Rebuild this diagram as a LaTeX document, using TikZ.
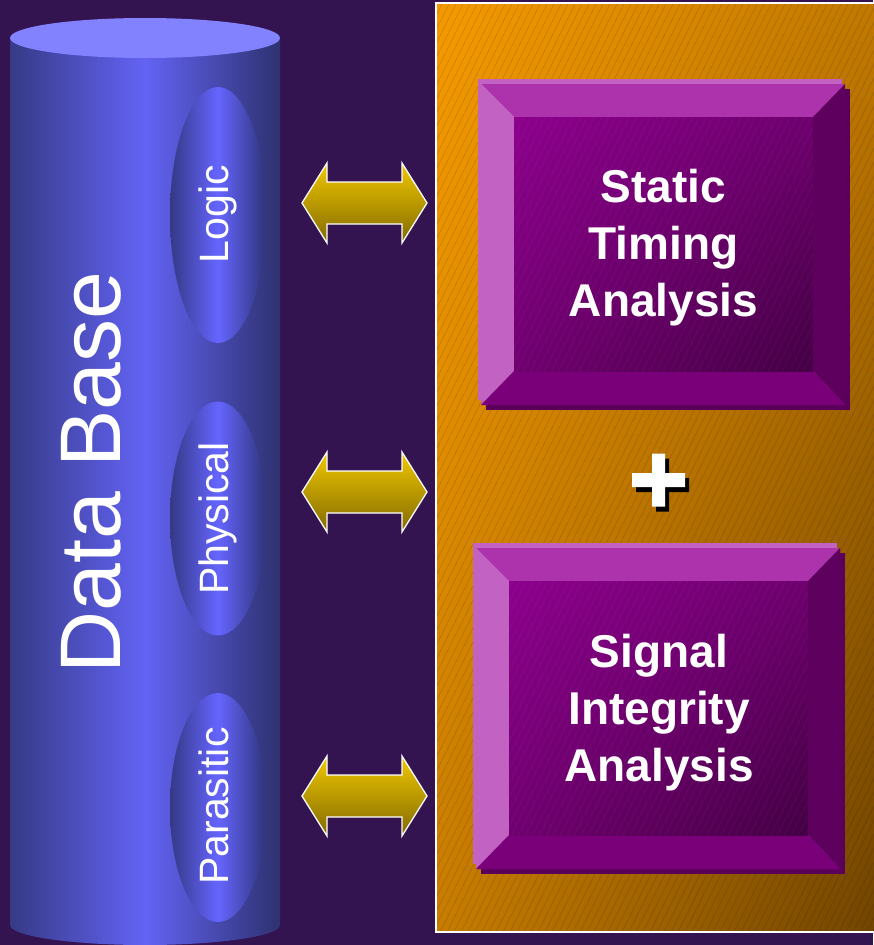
\documentclass[tikz,border=0pt]{standalone}
\usepackage{fontspec}
\setmainfont{Liberation Sans}
\usetikzlibrary{calc,shapes.geometric,shadings}

\definecolor{bgpurple}{HTML}{341450}
\definecolor{cylleft}{HTML}{363A86}
\definecolor{cylmid}{HTML}{6363F5}
\definecolor{cylright}{HTML}{2E3270}
\definecolor{cyltop}{HTML}{8282FF}
\definecolor{partleft}{HTML}{343985}
\definecolor{partmid}{HTML}{6565FF}
\definecolor{partright}{HTML}{30357A}
\definecolor{goldtop}{HTML}{F0C800}
\definecolor{goldmid}{HTML}{D4AE00}
\definecolor{goldbot}{HTML}{836A00}
\definecolor{panelUL}{HTML}{F59A00}
\definecolor{panelUR}{HTML}{C07800}
\definecolor{panelLL}{HTML}{C87D00}
\definecolor{panelLR}{HTML}{704400}
\definecolor{bevtopc}{HTML}{AD33AD}
\definecolor{bevleftc}{HTML}{C262C2}
\definecolor{bevrightc}{HTML}{5E005E}
\definecolor{bevbotc}{HTML}{7A007A}
\definecolor{bevshadowc}{HTML}{5A005A}
\definecolor{faceUL}{HTML}{8C008C}
\definecolor{faceUR}{HTML}{6E006E}
\definecolor{faceLL}{HTML}{700070}
\definecolor{faceLR}{HTML}{440044}

% left-to-right shadings for the cylinder body and its compartments
\pgfdeclarehorizontalshading{cylshade}{100bp}{color(0bp)=(cylleft); color(25bp)=(cylleft);
  color(50bp)=(cylmid); color(75bp)=(cylright); color(100bp)=(cylright)}
\pgfdeclarehorizontalshading{partshade}{100bp}{color(0bp)=(partleft); color(25bp)=(partleft);
  color(50bp)=(partmid); color(75bp)=(partright); color(100bp)=(partright)}

% bevelled push-button box: #1 name, (#2,#3) face top-left, (#4,#5) face bottom-right
\newcommand\bevelbox[5]{%
  \pgfmathsetmacro\bxa{#2-33}\pgfmathsetmacro\bya{#3-33}%
  \pgfmathsetmacro\bxb{#4+32}\pgfmathsetmacro\byb{#5+34}%
  \pgfmathsetmacro\fw{#4-#2}\pgfmathsetmacro\fh{#5-#3}%
  \pgfmathsetmacro\fcx{(#2+#4)/2}\pgfmathsetmacro\fcy{(#3+#5)/2}%
  \pgfmathtruncatemacro\hstart{#2-140}\pgfmathtruncatemacro\hnext{#2-133}%
  \pgfmathtruncatemacro\hend{#4}%
  \fill[bevshadowc] (\bxa+5,\bya+5) rectangle (\bxb+5,\byb+5);
  \fill[bevleftc] (\bxa-3,\bya-5) rectangle (\bxb-3,\byb-5);
  \fill[bevtopc] (\bxa,\bya) -- (\bxb,\bya) -- (#4,#3) -- (#2,#3) -- cycle;
  \fill[bevleftc] (\bxa,\bya) -- (#2,#3) -- (#2,#5) -- (\bxa,\byb) -- cycle;
  \fill[bevrightc] (\bxb,\bya) -- (\bxb,\byb) -- (#4,#5) -- (#4,#3) -- cycle;
  \fill[bevbotc] (\bxa,\byb) -- (#2,#5) -- (#4,#5) -- (\bxb,\byb) -- cycle;
  \node[faceplate, minimum width=\fw pt, minimum height=\fh pt]
    (#1) at (\fcx,\fcy) {};
  \begin{scope}
    \clip (#2,#3) rectangle (#4,#5);
    \foreach \hx in {\hstart,\hnext,...,\hend}
      \draw[facehatch] (\hx,#5+5) -- ++(135,-270);
  \end{scope}
}

\begin{document}
\begin{tikzpicture}[x=1pt,y=-1pt,
  hatch/.style={black,opacity=0.12,line width=0.7pt},
  facehatch/.style={white,opacity=0.05,line width=0.6pt},
  cylbody/.style={shade,shading=cylshade},
  dbpart/.style={ellipse,inner sep=0pt,minimum width=96pt,shade,shading=partshade},
  faceplate/.style={rectangle,inner sep=0pt,
    upper left=faceUL,upper right=faceUR,lower left=faceLL,lower right=faceLR},
  dblabel/.style={white,font=\fontsize{86}{86}\selectfont,rotate=90,
    anchor=base,inner sep=0pt},
  partlabel/.style={white,font=\fontsize{41}{41}\selectfont,rotate=90,
    anchor=base,inner sep=0pt},
  boxlabel/.style={white,font=\bfseries\fontsize{46}{57}\selectfont,
    align=center,inner sep=0pt},
  dblarrow/.pic={
    \shade[top color=goldtop,middle color=goldmid,bottom color=goldbot,
      draw=white,line width=1.3pt,line join=miter]
      (-62.5,0) -- (-37.5,-40) -- (-37.5,-21) -- (37.5,-21) -- (37.5,-40)
      -- (62.5,0) -- (37.5,40) -- (37.5,21) -- (-37.5,21) -- (-37.5,40) -- cycle;
  }]
\useasboundingbox (0,0) rectangle (873,945);
\fill[bgpurple] (0,0) rectangle (873,945);

% ---------- analysis panel ----------
\coordinate (panelNW) at (436,3);
\coordinate (panelSE) at (880,932);
\shade[upper left=panelUL,upper right=panelUR,lower left=panelLL,lower right=panelLR]
  (panelNW) rectangle (panelSE);
\begin{scope}
  \clip (panelNW) rectangle (panelSE);
  \foreach \hx in {-40,-33,...,880}
    \draw[hatch] (\hx,940) -- ++(470,-940);
\end{scope}
\draw[white,line width=1.5pt] (panelNW) rectangle (panelSE);

% ---------- database cylinder ----------
\shade[cylbody] (10,38) -- (10,925)
  arc[start angle=180,end angle=0,x radius=135,y radius=20] -- (280,38) -- cycle;
\fill[cyltop] (145,38) ellipse [x radius=135,y radius=20];

\node[dbpart,minimum height=256pt] (logic) at (218,215) {};
\node[dbpart,minimum height=234pt] (physical) at (218,518.5) {};
\node[dbpart,minimum height=229pt] (parasitic) at (218,807.5) {};

\node[dblabel] (dbtitle) at (120,472.5) {Data Base};
\node[partlabel] (logictext) at ($(logic.center)+(10,-1)$) {Logic};
\node[partlabel] (physicaltext) at ($(physical.center)+(10,0)$) {Physical};
\node[partlabel] (parasitictext) at ($(parasitic.center)+(10,-1.5)$) {Parasitic};

% ---------- two-way links ----------
\pic (linkA) at (364.5,203) {dblarrow};
\pic (linkB) at (364.5,492) {dblarrow};
\pic (linkC) at (364.5,796) {dblarrow};

% ---------- analysis boxes ----------
\bevelbox{sta}{514}{117}{813}{371}
\node[boxlabel] (statext) at ($(sta.center)+(0,4)$) {Static\\Timing\\Analysis};

\bevelbox{sia}{509}{581}{808}{835}
\node[boxlabel] (siatext) at ($(sia.center)+(0.5,5)$) {Signal\\Integrity\\Analysis};

% ---------- plus sign ----------
\coordinate (plus) at (658.5,480);
\begin{scope}[shift={(plus)}]
  \fill[black] (-2.5,-21.5) rectangle (10.5,31.5) (-22.5,-2) rectangle (30.5,12);
  \fill[white] (-6.5,-26.5) rectangle (6.5,26.5) (-26.5,-7) rectangle (26.5,7);
\end{scope}
\end{tikzpicture}
\end{document}
